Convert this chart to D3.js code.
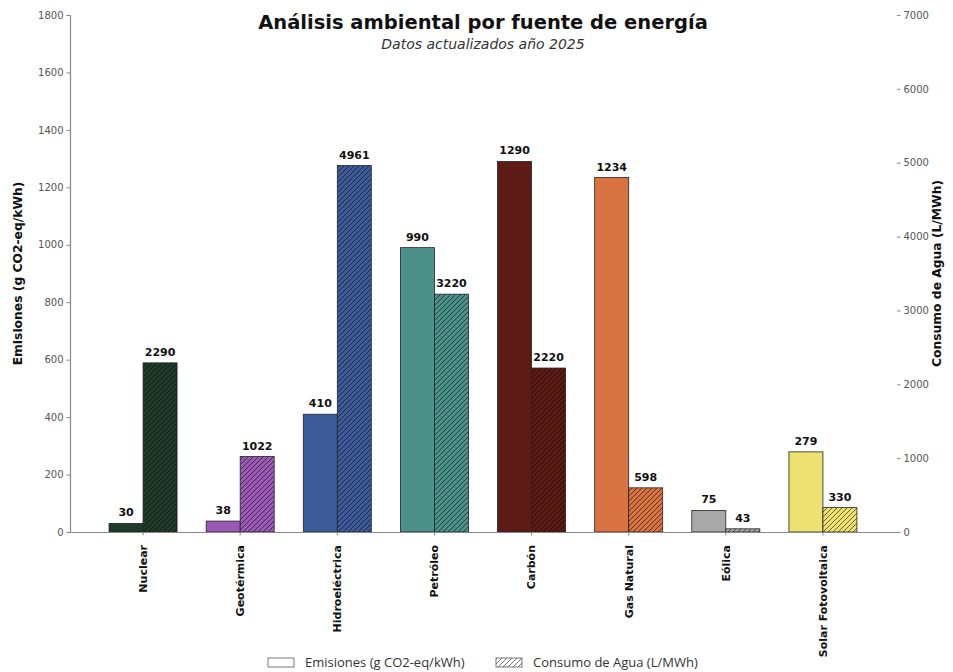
<!DOCTYPE html>
<html>
<head>
<meta charset="utf-8">
<script src="https://cdn.jsdelivr.net/npm/d3@7"></script>
<style>
  html, body { margin: 0; padding: 0; background: #ffffff; }
  svg { display: block; }
</style>
</head>
<body>
<div id="chart"></div>
<script>
// Energy sources and their environmental indicators
const categories = ["Nuclear", "Geotérmica", "Hidroeléctrica", "Petróleo", "Carbón", "Gas Natural", "Eólica", "Solar Fotovoltaica"];
const emissions = [30, 38, 410, 990, 1290, 1234, 75, 279];        // g CO2-eq/kWh
const waterUse = [2290, 1022, 4961, 3220, 2220, 598, 43, 330];   // L/MWh
const colors = ["#1e3b2b", "#9b59b6", "#3e5b99", "#4c9189", "#5e1a14", "#d97442", "#a9a9a9", "#ede172"];
const leftTicks = [0, 200, 400, 600, 800, 1000, 1200, 1400, 1600, 1800];
const rightTicks = [0, 1000, 2000, 3000, 4000, 5000, 6000, 7000];
const seriesNames = ["Emisiones (g CO2-eq/kWh)", "Consumo de Agua (L/MWh)"];

const W = 953, H = 672;
const plot = { left: 70, right: 897, top: 15, bottom: 532 };
const barW = 34;

const svg = d3.select("#chart").append("svg")
  .attr("width", W).attr("height", H)
  .style("font-family", "'DejaVu Sans', sans-serif");

const x = d3.scaleBand().domain(categories).range([94.5, 871.5]).padding(0);
const yL = d3.scaleLinear().domain([0, 1800]).range([plot.bottom, plot.top]);
const yR = d3.scaleLinear().domain([0, 7000]).range([plot.bottom, plot.top]);

// Hatch patterns, one per source colour
const defs = svg.append("defs");
function hatch(id, fill, stroke, opacity) {
  const p = defs.append("pattern")
    .attr("id", id).attr("patternUnits", "userSpaceOnUse")
    .attr("width", 5).attr("height", 5);
  p.append("rect").attr("width", 5).attr("height", 5).attr("fill", fill);
  p.append("path")
    .attr("d", "M-1,1 l2,-2 M0,5 l5,-5 M4,6 l2,-2")
    .attr("stroke", stroke).attr("stroke-width", 1).attr("stroke-opacity", opacity);
}
categories.forEach((c, i) => hatch("h" + i, colors[i], "#000", 0.55));
hatch("hLegend", "#ffffff", "#666", 0.9);

// Left axis (emissions)
const axL = svg.append("g").attr("transform", `translate(${plot.left},0)`)
  .call(d3.axisLeft(yL).tickValues(leftTicks).tickSize(3.5).tickPadding(3).tickFormat(d3.format("d")));
axL.select(".domain").attr("stroke", "#888").attr("stroke-width", 1.2);
axL.selectAll(".tick line").attr("stroke", "#888");
axL.selectAll(".tick text").attr("fill", "#555").style("font-size", "10px").style("font-family", "'DejaVu Sans', sans-serif");

// Right axis (water consumption), no spine
const axR = svg.append("g").attr("transform", `translate(${plot.right},0)`)
  .call(d3.axisRight(yR).tickValues(rightTicks).tickSize(3.5).tickPadding(3).tickFormat(d3.format("d")));
axR.select(".domain").remove();
axR.selectAll(".tick line").attr("stroke", "#888");
axR.selectAll(".tick text").attr("fill", "#555").style("font-size", "10px").style("font-family", "'DejaVu Sans', sans-serif");

// Bars
const groups = svg.append("g").selectAll("g").data(categories).join("g");
groups.append("rect")
  .attr("x", (d) => x(d) + x.bandwidth() / 2 - barW)
  .attr("y", (d, i) => yL(emissions[i]))
  .attr("width", barW)
  .attr("height", (d, i) => plot.bottom - yL(emissions[i]))
  .attr("fill", (d, i) => colors[i])
  .attr("stroke", "#222").attr("stroke-width", 0.8);
groups.append("rect")
  .attr("x", (d) => x(d) + x.bandwidth() / 2)
  .attr("y", (d, i) => yR(waterUse[i]))
  .attr("width", barW)
  .attr("height", (d, i) => plot.bottom - yR(waterUse[i]))
  .attr("fill", (d, i) => `url(#h${i})`)
  .attr("stroke", "#222").attr("stroke-width", 0.8);

// Value labels
groups.append("text")
  .attr("x", (d) => x(d) + x.bandwidth() / 2 - barW / 2)
  .attr("y", (d, i) => yL(emissions[i]) - 7)
  .attr("text-anchor", "middle").attr("font-weight", "bold").attr("font-size", 11).attr("fill", "#111")
  .text((d, i) => emissions[i]);
groups.append("text")
  .attr("x", (d) => x(d) + x.bandwidth() / 2 + barW / 2)
  .attr("y", (d, i) => yR(waterUse[i]) - 7)
  .attr("text-anchor", "middle").attr("font-weight", "bold").attr("font-size", 11).attr("fill", "#111")
  .text((d, i) => waterUse[i]);

// Bottom axis
const axB = svg.append("g").attr("transform", `translate(0,${plot.bottom})`)
  .call(d3.axisBottom(x).tickSize(3.5).tickSizeOuter(0).tickPadding(5));
axB.select(".domain").attr("d", `M${plot.left},0.5H${plot.right}`).attr("stroke", "#888").attr("stroke-width", 1.2);
axB.selectAll(".tick line").attr("stroke", "#888");
axB.selectAll(".tick text")
  .attr("transform", "rotate(-90)")
  .attr("x", -13).attr("y", 0).attr("dy", "0.35em")
  .attr("text-anchor", "end")
  .attr("fill", "#111")
  .style("font-size", "11px").style("font-weight", "bold")
  .style("font-family", "'DejaVu Sans', sans-serif");

// Title and subtitle
svg.append("text").attr("x", 483).attr("y", 29).attr("text-anchor", "middle")
  .attr("font-size", 19.5).attr("font-weight", "bold").attr("fill", "#111")
  .text("Análisis ambiental por fuente de energía");
svg.append("text").attr("x", 483).attr("y", 49).attr("text-anchor", "middle")
  .attr("font-size", 14).attr("font-style", "italic").attr("fill", "#333")
  .text("Datos actualizados año 2025");

// Axis titles
svg.append("text").attr("transform", `translate(22,${(plot.top + plot.bottom) / 2}) rotate(-90)`)
  .attr("text-anchor", "middle").attr("font-size", 12.3).attr("font-weight", "bold").attr("fill", "#111")
  .text(seriesNames[0]);
svg.append("text").attr("transform", `translate(941,${(plot.top + plot.bottom) / 2}) rotate(-90)`)
  .attr("text-anchor", "middle").attr("font-size", 12.3).attr("font-weight", "bold").attr("fill", "#111")
  .text(seriesNames[1]);

// Legend
const legend = svg.append("g").style("font-family", "'Open Sans', sans-serif");
const legendItems = [
  { x: 268, fill: "#ffffff", label: seriesNames[0] },
  { x: 496, fill: "url(#hLegend)", label: seriesNames[1] }
];
legendItems.forEach((it) => {
  legend.append("rect").attr("x", it.x).attr("y", 658).attr("width", 26).attr("height", 9)
    .attr("fill", it.fill).attr("stroke", "#555").attr("stroke-width", 0.8);
  legend.append("text").attr("x", it.x + 37).attr("y", 667)
    .attr("font-size", 13).attr("fill", "#333").text(it.label);
});
</script>
</body>
</html>
